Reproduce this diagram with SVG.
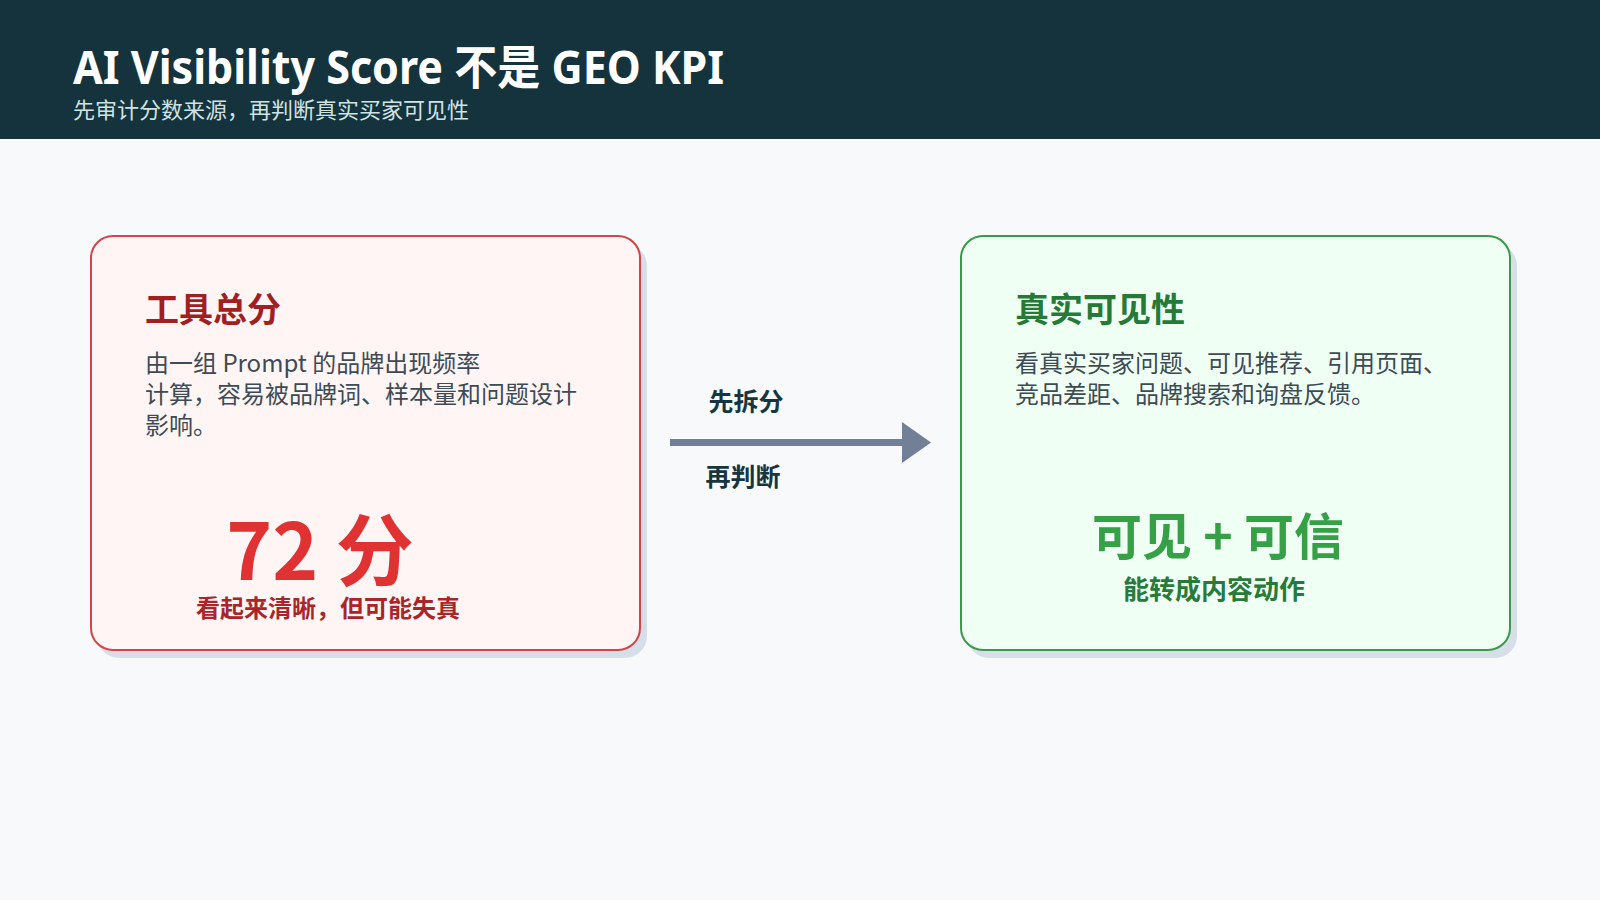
<svg xmlns="http://www.w3.org/2000/svg" width="1600" height="900" viewBox="0 0 1600 900">
<style>
text{font-family:"Noto Sans","Noto Sans CJK SC",sans-serif}
.cjk{font-family:"Noto Sans CJK SC","Noto Sans",sans-serif}
.title{font-size:47px;font-weight:700;fill:#ffffff}
.sub{font-size:22px;fill:#cfe3e3}
.ctitle{font-size:34px;font-weight:700}
.body{font-size:24px;fill:#3d4b56}
.lbl{font-size:25px;font-weight:700;fill:#163540;text-anchor:middle}
.shadow{fill:#d6dee7}
</style>
<rect width="1600" height="900" fill="#f7f9fb"/>
<g id="header">
<rect width="1600" height="139" fill="#15333d"/>
<text x="73" y="84" class="title" textLength="651" lengthAdjust="spacingAndGlyphs">AI Visibility Score 不是 GEO KPI</text>
<text x="73" y="118" class="sub cjk">先审计分数来源，再判断真实买家可见性</text>
</g>
<g id="node-tool-score">
<rect x="97" y="244" width="550" height="414" rx="22" class="shadow"/>
<rect x="91" y="236" width="549" height="414" rx="22" fill="#fff5f5" stroke="#d2454a" stroke-width="2"/>
<text x="145" y="322" class="ctitle cjk" fill="#a01f22">工具总分</text>
<text class="body cjk"><tspan x="145" y="372">由一组 Prompt 的品牌出现频率</tspan><tspan x="145" y="403">计算，容易被品牌词、样本量和问题设计</tspan><tspan x="145" y="434">影响。</tspan></text>
<text x="320" y="580" class="cjk" font-size="78" font-weight="700" fill="#e03232" text-anchor="middle">72 分</text>
<text x="328" y="617" class="cjk" font-size="24" font-weight="700" fill="#a8262a" text-anchor="middle">看起来清晰，但可能失真</text>
</g>
<g id="connectors">
<line x1="670" y1="442.5" x2="903" y2="442.5" stroke="#718096" stroke-width="7"/>
<path d="M902,422 L931,442.5 L902,463 Z" fill="#718096"/>
<text x="746" y="411" class="lbl cjk">先拆分</text>
<text x="743" y="486" class="lbl cjk">再判断</text>
</g>
<g id="node-real-visibility">
<rect x="967" y="244" width="550" height="414" rx="22" class="shadow"/>
<rect x="961" y="236" width="549" height="414" rx="22" fill="#f0fff4" stroke="#3a9a4a" stroke-width="2"/>
<text x="1015" y="322" class="ctitle cjk" fill="#257a38">真实可见性</text>
<text class="body cjk"><tspan x="1015" y="372">看真实买家问题、可见推荐、引用页面、</tspan><tspan x="1015" y="403">竞品差距、品牌搜索和询盘反馈。</tspan></text>
<text x="1218" y="555" class="cjk" font-size="50" font-weight="700" fill="#35a046" text-anchor="middle">可见 + 可信</text>
<text x="1214" y="599" class="cjk" font-size="26" font-weight="700" fill="#277a3a" text-anchor="middle">能转成内容动作</text>
</g>
</svg>
